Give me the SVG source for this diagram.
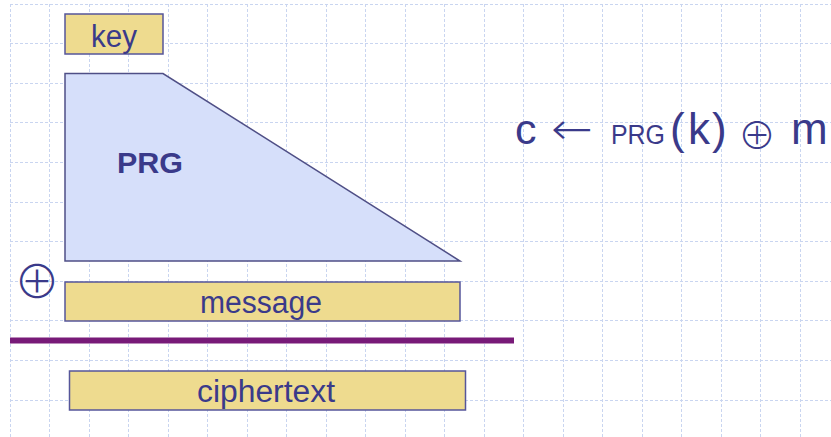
<svg xmlns="http://www.w3.org/2000/svg" width="831" height="437" viewBox="0 0 831 437">
  <style>
    .grid { fill: none; stroke: #c9d5f0; stroke-width: 1; stroke-dasharray: 3 2; }
    .box { fill: #eedb8f; stroke: #56569a; stroke-width: 1.5; }
    .prg { fill: #d6dffa; stroke: #4f4f86; stroke-width: 1.5; }
    .lbl { font-family: "Liberation Sans", Arial, sans-serif; fill: #3a3a8a; }
    .sym { font-family: "DejaVu Sans", sans-serif; font-weight: 200; fill: #3a3a8a; }
    .oplus { font-family: "Noto Sans CJK JP", "DejaVu Sans", sans-serif; font-weight: 300; fill: #3a3a8a; }
  </style>
  <rect width="831" height="437" fill="#ffffff"/>

  <!-- background grid paper -->
  <g id="grid" class="grid">
    <path d="M10.5 4V437M49.5 4V437M89.5 4V437M128.5 4V437M168.5 4V437M207.5 4V437M247.5 4V437M286.5 4V437M326.5 4V437M365.5 4V437M405.5 4V437M444.5 4V437M484.5 4V437M523.5 4V437M563.5 4V437M602.5 4V437M642.5 4V437M681.5 4V437M721.5 4V437M760.5 4V437M800.5 4V437"/>
    <path d="M10 4.5H831M10 43.5H831M10 83.5H831M10 122.5H831M10 162.5H831M10 202.5H831M10 241.5H831M10 281.5H831M10 320.5H831M10 360.5H831M10 400.5H831"/>
  </g>

  <g id="key">
    <rect class="box" x="65" y="14" width="98" height="40"/>
    <text class="lbl" x="114" y="47" font-size="31" text-anchor="middle" textLength="46" lengthAdjust="spacingAndGlyphs">key</text>
  </g>

  <g id="prg">
    <polygon class="prg" points="65,73.5 163,73.5 460,261 65,261"/>
    <text class="lbl" x="150" y="173" font-size="30" font-weight="bold" text-anchor="middle" textLength="66" lengthAdjust="spacingAndGlyphs">PRG</text>
  </g>

  <g id="xor">
    <text class="oplus" x="37" y="298" font-size="46" text-anchor="middle">⊕</text>
  </g>

  <g id="message">
    <rect class="box" x="65" y="282" width="395" height="39"/>
    <text class="lbl" x="261" y="313" font-size="31" text-anchor="middle" textLength="122" lengthAdjust="spacingAndGlyphs">message</text>
  </g>

  <g id="separator">
    <line x1="10" y1="340.5" x2="514" y2="340.5" stroke="#781a78" stroke-width="6"/>
  </g>

  <g id="ciphertext">
    <rect class="box" x="69.5" y="371" width="396" height="39"/>
    <text class="lbl" x="266" y="402" font-size="31" text-anchor="middle" textLength="138" lengthAdjust="spacingAndGlyphs">ciphertext</text>
  </g>

  <!-- c ← PRG(k) ⊕ m -->
  <g id="formula">
    <text class="lbl" x="515" y="144" font-size="43">c</text>
    <text class="sym" x="551" y="144" font-size="44" textLength="42" lengthAdjust="spacingAndGlyphs">←</text>
    <text class="lbl" x="611" y="144" font-size="27" textLength="54" lengthAdjust="spacingAndGlyphs">PRG</text>
    <text class="lbl" x="670" y="144" font-size="44">(</text>
    <text class="lbl" x="688" y="144" font-size="44">k</text>
    <text class="lbl" x="712" y="144" font-size="44">)</text>
    <text class="oplus" x="757" y="149" font-size="38" text-anchor="middle">⊕</text>
    <text class="lbl" x="791" y="144" font-size="44">m</text>
  </g>
</svg>
